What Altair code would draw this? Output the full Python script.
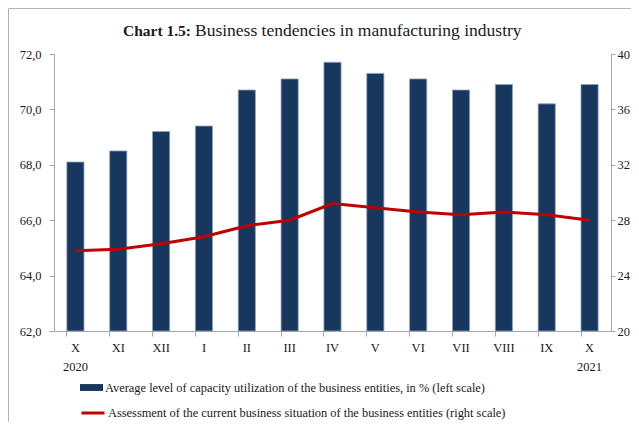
import altair as alt
import pandas as pd

months = ["X 2020", "XI", "XII", "I", "II", "III", "IV", "V", "VI", "VII", "VIII", "IX", "X 2021"]
capacity = [68.1, 68.5, 69.2, 69.4, 70.7, 71.1, 71.7, 71.3, 71.1, 70.7, 70.9, 70.2, 70.9]
situation = [25.8, 25.9, 26.3, 26.8, 27.6, 28.0, 29.2, 28.9, 28.6, 28.4, 28.6, 28.4, 28.0]
left_ticks = [62, 64, 66, 68, 70, 72]
right_ticks = [20, 24, 28, 32, 36, 40]
bar_label = "Average level of capacity utilization of the business entities, in % (left scale)"
line_label = "Assessment of the current business situation of the business entities (right scale)"
title_bold = "Chart 1.5:"
title_rest = "Business tendencies in manufacturing industry"

df = pd.DataFrame({"month": months, "capacity": capacity, "situation": situation,
                   "s1": bar_label, "s2": line_label})

FONT = "Liberation Serif"
GRAY = "#a6a6a6"
TXT = "#1a1a1a"

xscale = alt.Scale(domain=months, paddingInner=0.6, paddingOuter=0.3)

bars = alt.Chart(df).mark_bar(stroke="#8fa2bb", strokeWidth=0.8).encode(
    x=alt.X("month:N", sort=months, scale=xscale,
            axis=alt.Axis(title=None, labelAngle=0, ticks=False, domain=False,
                          labelExpr="split(datum.value, ' ')", labelPadding=10,
                          labelFontSize=12.5, labelLineHeight=19, orient="bottom")),
    y=alt.Y("capacity:Q", scale=alt.Scale(domain=[62, 72], nice=False, zero=False),
            axis=alt.Axis(title=None, values=left_ticks,
                          labelExpr="replace(format(datum.value, '.1f'), '.', ',')",
                          tickSize=5, labelPadding=8, grid=False, orient="left")),
    y2=alt.datum(62),
    fill=alt.Fill("s1:N", scale=alt.Scale(range=["#17375e"]),
                  legend=alt.Legend(title=None, orient="none", legendX=26, legendY=322,
                                    symbolType="M-1,-0.3H1V0.3H-1Z", symbolSize=529,
                                    symbolStrokeWidth=0, labelFontSize=12.4, labelOffset=2,
                                    padding=0, labelLimit=700)),
)

line = alt.Chart(df).mark_line(strokeWidth=3).encode(
    x=alt.X("month:N", sort=months, scale=xscale,
            axis=alt.Axis(title=None, labels=False, ticks=True, tickSize=5, bandPosition=0,
                          domain=True, orient="bottom")),
    y=alt.Y("situation:Q", scale=alt.Scale(domain=[20, 40], nice=False, zero=False),
            axis=alt.Axis(title=None, values=right_ticks, tickSize=4, labelPadding=2,
                          grid=False, orient="right")),
    stroke=alt.Stroke("s2:N", scale=alt.Scale(range=["#c00000"]),
                      legend=alt.Legend(title=None, orient="none", legendX=26, legendY=346,
                                        symbolType="stroke", symbolSize=529,
                                        symbolStrokeWidth=3, labelFontSize=12.4, labelOffset=2,
                                        padding=0, labelLimit=700)),
)

tdf = pd.DataFrame({"a": [title_bold], "b": [title_rest]})
t1 = alt.Chart(tdf).mark_text(font=FONT, fontSize=15.5, fontWeight="bold", align="right",
                              baseline="alphabetic", color=TXT).encode(
    text="a:N", x=alt.value(137), y=alt.value(-18))
t2 = alt.Chart(tdf).mark_text(font=FONT, fontSize=17.5, align="left",
                              baseline="alphabetic", color=TXT).encode(
    text="b:N", x=alt.value(141), y=alt.value(-18))

fdf = pd.DataFrame({"k": [0]})
frame_left = alt.Chart(fdf).mark_rule(color="#b3b3b3", strokeWidth=1).encode(
    x=alt.value(-45.5), y=alt.value(-45.5), y2=alt.value(380))
frame_top = alt.Chart(fdf).mark_rule(color="#b3b3b3", strokeWidth=1).encode(
    x=alt.value(-45.5), x2=alt.value(577), y=alt.value(-45.5))

chart = alt.layer(bars, line, t1, t2, frame_left, frame_top).resolve_scale(
    y="independent", fill="independent", stroke="independent"
).resolve_axis(x="independent").properties(
    width=557, height=277,
    autosize=alt.AutoSizeParams(type="none"),
    padding={"left": 46, "top": 46, "right": 20, "bottom": 91},
    background="white",
).configure_view(stroke=None).configure_axis(
    labelFont=FONT, labelFontSize=12.5, labelColor=TXT,
    domainColor=GRAY, tickColor=GRAY,
).configure_legend(labelFont=FONT, labelColor=TXT)

chart.save("out.html", embed_options={"renderer": "svg", "actions": False})
